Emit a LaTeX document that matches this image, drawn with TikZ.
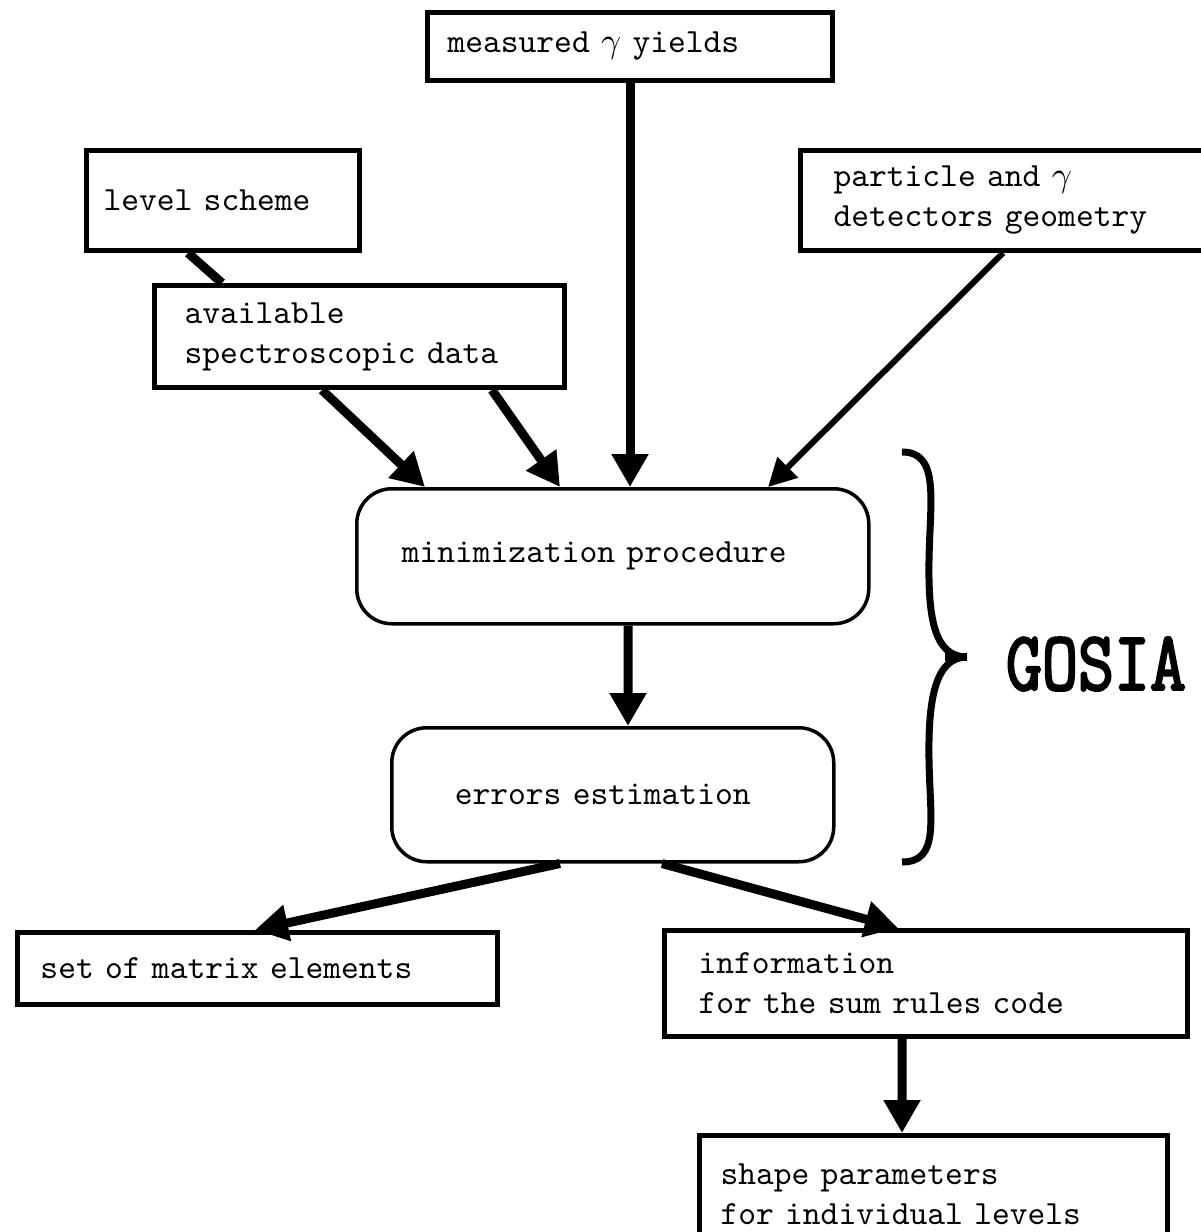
\documentclass[tikz,border=0pt]{standalone}
\usepackage{fontspec}
\newfontfamily\gosiafont{Latin Modern Mono}[BoldFont={Latin Modern Mono},BoldFeatures={FakeBold=3}]
\usetikzlibrary{arrows.meta}

\tikzset{
  txt/.style={font=\ttfamily\fontsize{9.64}{11.4}\selectfont},
  box/.style={txt,draw,line width=0.5mm,anchor=north west,align=left,inner ysep=0pt},
  rbox/.style={box,line width=0.35mm,rounded corners=3.5mm},
  flow/.style={line width=0.9mm,-{Triangle[length=3.3mm,width=3.5mm]}},
  thinflow/.style={line width=0.6mm,-{Triangle[length=2.8mm,width=2.8mm]}},
}

\begin{document}
\begin{tikzpicture}[x=0.1mm,y=-0.1mm]
\useasboundingbox (0,0) rectangle (1201,1232);

% inputs
\node[box,minimum width=40.5mm,minimum height=6.8mm,inner xsep=2mm,text width=36.5mm] (meas) at (425,10) {measured $\gamma$ yields};
\node[box,minimum width=27.3mm,minimum height=10mm,inner xsep=1.7mm,text width=23.9mm] (lev) at (84,148) {level scheme};
\node[box,minimum width=41mm,minimum height=10.2mm,inner xsep=3mm,text width=35mm] (avail) at (152,283) {available\\spectroscopic data};
\node[box,minimum width=41.7mm,minimum height=10mm,inner xsep=3.3mm,text width=35.1mm] (part) at (798,148) {particle and $\gamma$\\detectors geometry};

% GOSIA part
\node[rbox,minimum width=51.2mm,minimum height=13.5mm,inner xsep=4.5mm,text width=42.2mm] (min) at (355,487) {minimization procedure};
\node[rbox,minimum width=44.2mm,minimum height=13.4mm,inner xsep=6.3mm,text width=31.6mm] (err) at (390,726) {errors estimation};

% outputs
\node[box,minimum width=48mm,minimum height=7.2mm,inner xsep=2.3mm,text width=43.4mm] (set) at (15,930) {set of matrix elements};
\node[box,minimum width=52.3mm,minimum height=10.6mm,inner xsep=3.4mm,text width=45.5mm] (info) at (662,928) {information\\for the sum rules code};
\node[box,minimum width=46.8mm,minimum height=11.8mm,inner xsep=2.1mm,text width=42.6mm] (shape) at (697,1133) {shape parameters\\for individual levels};

\draw[line width=0.9mm] ([xshift=10.4mm]lev.south west) -- ([xshift=7mm]avail.north west);
\draw[flow] ([xshift=17mm]avail.south west) -- ([xshift=7mm]min.north west);
\draw[flow] ([xshift=34mm]avail.south west) -- ([xshift=20.5mm]min.north west);
\draw[flow] (meas.south) -- (meas.south |- min.north);
\draw[thinflow] ([xshift=20.5mm]part.south west) -- ([xshift=41.3mm]min.north west);
\draw[flow] ([xshift=27.3mm]min.south west) -- ([xshift=23.8mm]err.north west);
\draw[flow] ([xshift=17mm]err.south west) -- ([xshift=24mm]set.north west);
\draw[flow] ([xshift=27.2mm]err.south west) -- ([xshift=23.6mm]info.north west);
\draw[flow] ([xshift=24mm]info.south west) -- ([xshift=20.5mm]shape.north west);

% brace
\draw[line width=0.7mm] (902,452) .. controls (940,452) and (930,500) .. (929,560)
  .. controls (928,620) and (935,657) .. (967,657)
  .. controls (935,657) and (928,700) .. (929,760)
  .. controls (930,820) and (940,862) .. (902,862);
\draw[line width=0.8mm] (945,657) -- (967,657);
\node[font=\gosiafont\bfseries\fontsize{19.9}{22}\selectfont] (gosia) at (1096,664) {\scalebox{1}[1.2]{GOSIA}};
\end{tikzpicture}
\end{document}
